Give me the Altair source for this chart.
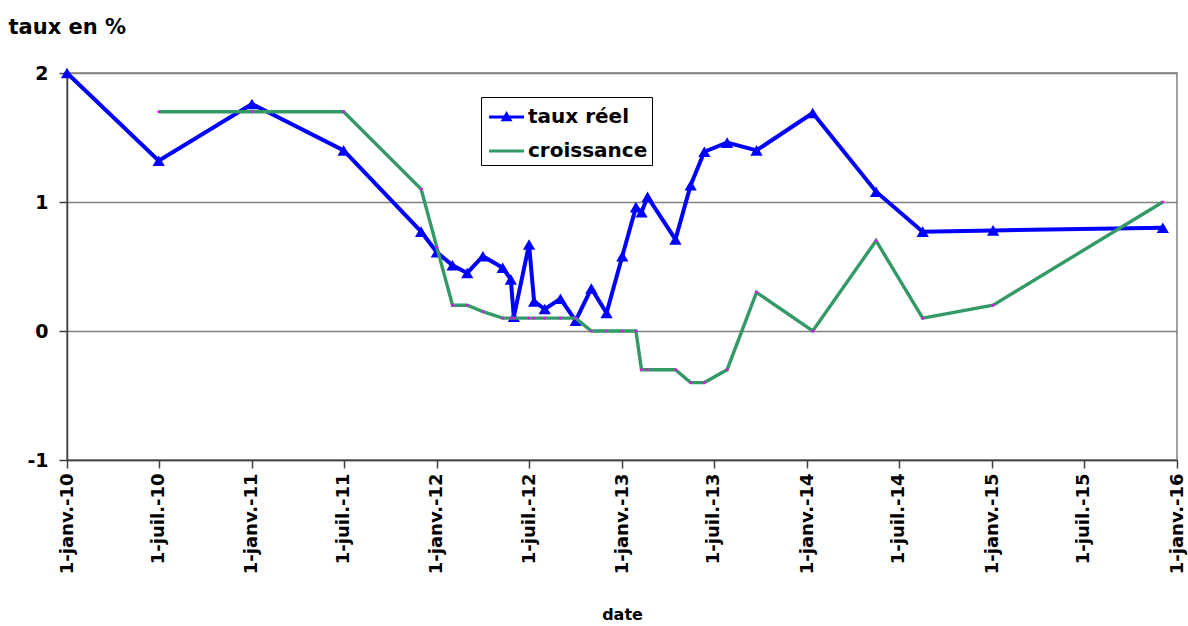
import altair as alt
import pandas as pd

# Observation dates and the two rate series (in %)
dates = ["2010-01-01", "2010-07-01", "2011-01-01", "2011-07-01", "2011-12-01",
         "2012-01-01", "2012-02-01", "2012-03-01", "2012-04-01", "2012-05-10",
         "2012-05-26", "2012-06-01", "2012-07-01", "2012-07-11", "2012-08-01",
         "2012-09-01", "2012-10-01", "2012-11-01", "2012-12-01", "2013-01-01",
         "2013-01-28", "2013-02-08", "2013-02-20", "2013-04-16", "2013-05-16",
         "2013-06-12", "2013-07-27", "2013-09-23", "2014-01-12", "2014-05-17",
         "2014-08-17", "2015-01-03", "2015-12-04"]
taux_reel = [2.00, 1.32, 1.76, 1.40, 0.77, 0.61, 0.51, 0.45, 0.58, 0.49,
             0.40, 0.11, 0.67, 0.23, 0.17, 0.25, 0.08, 0.33, 0.14, 0.58,
             0.96, 0.92, 1.04, 0.71, 1.13, 1.39, 1.46, 1.40, 1.69, 1.08,
             0.77, 0.78, 0.80]
croissance = [None, 1.70, 1.70, 1.70, 1.10, 0.65, 0.20, 0.20, 0.15, 0.10,
              0.10, 0.10, 0.10, 0.10, 0.10, 0.10, 0.10, 0.00, 0.00, 0.00,
              0.00, -0.30, -0.30, -0.30, -0.40, -0.40, -0.30, 0.30, 0.00, 0.70,
              0.10, 0.20, 1.00]

series_names = ["taux réel", "croissance"]
series_colors = ["#0000FF", "#339966"]
tick_years = [2010, 2011, 2012, 2013, 2014, 2015]
y_ticks = [-1, 0, 1, 2]

df = pd.DataFrame({"date": dates, "taux_reel": taux_reel, "croissance": croissance})

FONT = "DejaVu Sans"

tick_values = []
for yr in tick_years:
    tick_values.append(alt.DateTime(year=yr, month=1, date=1, utc=True))
    tick_values.append(alt.DateTime(year=yr, month=7, date=1, utc=True))
tick_values.append(alt.DateTime(year=2016, month=1, date=1, utc=True))

x_enc = alt.X(
    "date:T",
    scale=alt.Scale(type="utc", domain=[alt.DateTime(year=2010, month=1, date=1, utc=True),
                                        alt.DateTime(year=2016, month=1, date=1, utc=True)]),
    axis=alt.Axis(
        values=tick_values,
        labelExpr="'1-' + (utcmonth(datum.value) == 0 ? 'janv.' : 'juil.') + '-' + utcFormat(datum.value, '%y')",
        labelAngle=270, labelFontSize=18, labelPadding=5, labelFlush=False,
        labelOverlap=False, tickSize=8, grid=False,
        title="date", titleFontSize=16, titleY=159, titleBaseline="alphabetic",
    ),
)

y_scale = alt.Scale(domain=[-1, 2], nice=False, zero=False)
y_axis = alt.Axis(
    values=y_ticks, labelExpr="'' + datum.value", labelFontSize=19, labelPadding=11, tickSize=8,
    grid=True, gridColor="#808080", gridWidth=1.5,
    title="taux en %", titleAngle=0, titleAlign="left", titleBaseline="alphabetic",
    titleX=-59, titleY=-40, titleFontSize=21,
)

base = alt.Chart(df)

blue_line = base.mark_line(color="#0000FF", strokeWidth=4).encode(
    x=x_enc, y=alt.Y("taux_reel:Q", scale=y_scale, axis=y_axis)
)
blue_pts = base.mark_point(shape="triangle-up", filled=True, size=150,
                           color="#0000FF", opacity=1).encode(
    x="date:T", y="taux_reel:Q"
)
green_line = base.transform_filter("isValid(datum.croissance)").mark_line(
    color="#339966", strokeWidth=3.4
).encode(x="date:T", y="croissance:Q")
green_pts = base.transform_filter("isValid(datum.croissance)").mark_point(
    shape="square", filled=True, size=6, color="#FF00FF", opacity=1
).encode(x="date:T", y="croissance:Q")

# Legend symbols: a short line with the series marker
legend_shapes = [
    "M-0.75,-0.1H1.45V0.1H-0.75Z M0.35,-0.38L0.72,0.26H-0.02Z",
    "M-0.75,-0.1H1.45V0.1H-0.75Z",
]
legend_def = alt.Legend(
    title=None, orient="none", legendX=414, legendY=24,
    labelFont=FONT, labelFontSize=20, labelFontWeight="bold", labelColor="black",
    labelOffset=11, symbolSize=1012, rowPadding=8, padding=4,
    strokeColor="black", fillColor="white", symbolStrokeWidth=0,
)
legend_layer = base.transform_fold(
    ["taux_reel", "croissance"], as_=["key", "value"]
).transform_calculate(
    serie="datum.key == 'taux_reel' ? 'taux réel' : 'croissance'"
).transform_filter("false").mark_point(filled=True, size=1012, strokeWidth=0, opacity=1).encode(
    x="date:T", y="value:Q",
    color=alt.Color("serie:N", scale=alt.Scale(domain=series_names, range=series_colors), legend=legend_def),
    shape=alt.Shape("serie:N", scale=alt.Scale(domain=series_names, range=legend_shapes), legend=legend_def),
)

chart = alt.layer(blue_line, blue_pts, green_line, green_pts, legend_layer).properties(
    width=1110, height=387,
    autosize=alt.AutoSizeParams(type="none"),
    padding={"left": 67, "top": 73, "right": 11, "bottom": 166},
    background="white",
).configure_view(
    stroke="#808080", strokeWidth=1.5
).configure_axis(
    labelFont=FONT, labelFontWeight="bold", labelColor="black",
    titleFont=FONT, titleFontWeight="bold", titleColor="black",
    domainColor="#404040", domainWidth=1.5, tickColor="#404040", tickWidth=1.5,
)

chart.save("out.html", embed_options={"renderer": "svg", "actions": False})
